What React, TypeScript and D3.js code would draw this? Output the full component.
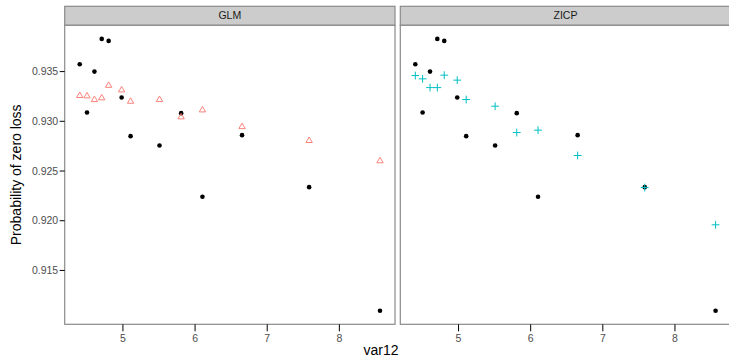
import React from "react";
import * as d3 from "d3";

const var12 = [4.401, 4.502, 4.605, 4.706, 4.802, 4.982, 5.106, 5.507, 5.807, 6.102, 6.651, 7.581, 8.563];
const observed = [0.93574, 0.93088, 0.935, 0.93829, 0.93809, 0.93239, 0.92851, 0.92756, 0.93082, 0.92241, 0.92861, 0.92338, 0.91095];
const glm = [0.93258, 0.93254, 0.93217, 0.93234, 0.9336, 0.93314, 0.932, 0.93217, 0.93043, 0.93113, 0.92945, 0.92805, 0.92601];
const zicp = [0.9346, 0.93427, 0.93339, 0.93339, 0.93464, 0.93414, 0.93219, 0.93152, 0.92887, 0.92911, 0.92656, 0.92334, 0.91959];
const panels = ["GLM", "ZICP"];
const xTicks = [5, 6, 7, 8];
const yTicks = [0.915, 0.92, 0.925, 0.93, 0.935];

const FONT = "'Liberation Sans', Arial, Helvetica, sans-serif";

export default function App() {
  const W = 729, H = 359;
  const top = 25.3, bottom = 324.3, stripTop = 6.3;
  const panelX = [[64.7, 395], [400.3, 730.6]];

  const xExt = d3.extent(var12) as [number, number];
  const xPad = (xExt[1] - xExt[0]) * 0.05;
  const allY = [...observed, ...glm, ...zicp];
  const yExt = d3.extent(allY) as [number, number];
  const yPad = (yExt[1] - yExt[0]) * 0.05;
  const y = d3.scaleLinear().domain([yExt[0] - yPad, yExt[1] + yPad]).range([bottom, top]);

  const tri = (cx: number, cy: number) => {
    const s = 2.35;
    const r = 1.555 * s, xc = 1.347 * s, yc = 0.778 * s;
    return `M${cx},${cy - r}L${cx + xc},${cy + yc}L${cx - xc},${cy + yc}Z`;
  };

  return (
    <svg width={W} height={H} style={{ position: "absolute", left: 0, top: 0, background: "#fff" }} fontFamily={FONT}>
      <rect x={0} y={0} width={W} height={H} fill="#fff" />
      {panels.map((p, pi) => {
        const [x0, x1] = panelX[pi];
        const x = d3.scaleLinear().domain([xExt[0] - xPad, xExt[1] + xPad]).range([x0, x1]);
        const model = pi === 0 ? glm : zicp;
        return (
          <g key={p}>
            <rect x={x0} y={stripTop} width={x1 - x0} height={top - stripTop} fill="#cccccc" stroke="#8a8a8a" strokeWidth={1.2} />
            <text x={(x0 + x1) / 2} y={(stripTop + top) / 2} dy="0.35em" textAnchor="middle" fontSize={10.5} fill="#1a1a1a">{p}</text>
            <rect x={x0} y={top} width={x1 - x0} height={bottom - top} fill="#fff" stroke="#8a8a8a" strokeWidth={1.2} />
            {xTicks.map((t) => (
              <g key={t}>
                <line x1={x(t)} x2={x(t)} y1={bottom} y2={bottom + 7} stroke="#000" strokeWidth={1} />
                <text x={x(t)} y={bottom + 18} textAnchor="middle" fontSize={10.5} fill="#4d4d4d">{t}</text>
              </g>
            ))}
            {pi === 0 && yTicks.map((t) => (
              <g key={t}>
                <line x1={x0 - 5} x2={x0} y1={y(t)} y2={y(t)} stroke="#000" strokeWidth={1} />
                <text x={x0 - 6.5} y={y(t)} dy="0.35em" textAnchor="end" fontSize={10.5} fill="#4d4d4d">{t.toFixed(3)}</text>
              </g>
            ))}
            {var12.map((v, i) => (
              <circle key={"o" + i} cx={x(v)} cy={y(observed[i])} r={2.3} fill="#000" />
            ))}
            {var12.map((v, i) =>
              pi === 0 ? (
                <path key={"m" + i} d={tri(x(v), y(model[i]))} fill="none" stroke="#F8766D" strokeWidth={0.9} />
              ) : (
                <path key={"m" + i} d={`M${x(v) - 3.9},${y(model[i])}H${x(v) + 3.9}M${x(v)},${y(model[i]) - 3.9}V${y(model[i]) + 3.9}`} fill="none" stroke="#00BFC4" strokeWidth={1} />
              )
            )}
          </g>
        );
      })}
      <text x={381} y={355} textAnchor="middle" fontSize={14} fill="#000">var12</text>
      <text transform={`translate(21,${(top + bottom) / 2}) rotate(-90)`} textAnchor="middle" fontSize={14} fill="#000">Probability of zero loss</text>
    </svg>
  );
}
